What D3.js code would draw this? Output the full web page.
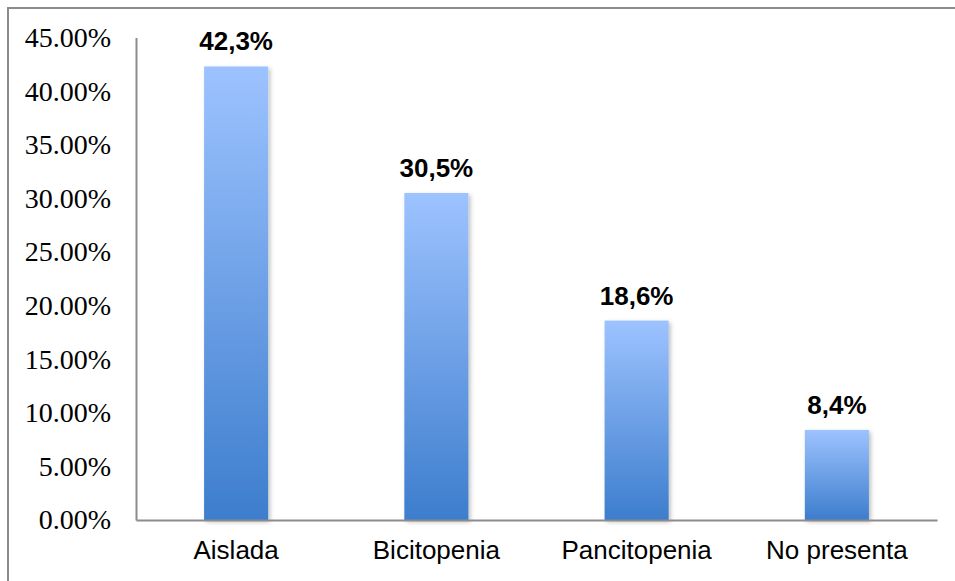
<!DOCTYPE html>
<html><head><meta charset="utf-8">
<script src="https://cdn.jsdelivr.net/npm/d3@7"></script>
<style>body{margin:0;background:#fff}svg{display:block}</style>
</head><body>
<svg id="c" width="955" height="581"></svg>
<script>
const categories = ["Aislada", "Bicitopenia", "Pancitopenia", "No presenta"];
const values = [42.3, 30.5, 18.6, 8.4];
const valueLabels = ["42,3%", "30,5%", "18,6%", "8,4%"];
const yTicks = [0, 5, 10, 15, 20, 25, 30, 35, 40, 45];

const svg = d3.select("#c");
const W = 955, H = 581;
const plot = {left: 136, right: 937, top: 37.5, bottom: 520};

// outer border (top and left visible)
svg.append("path").attr("d", `M8,${H+2}V8H${W+2}`).attr("fill","none")
  .attr("stroke","#8c8c8c").attr("stroke-width",2);

const defs = svg.append("defs");
const grad = defs.append("linearGradient").attr("id","g").attr("x1",0).attr("y1",0).attr("x2",0).attr("y2",1);
grad.append("stop").attr("offset","0%").attr("stop-color","#9dc3ff");
grad.append("stop").attr("offset","100%").attr("stop-color","#3d7dcd");
const f = defs.append("filter").attr("id","sh").attr("x","-20%").attr("y","-20%").attr("width","150%").attr("height","150%");
f.append("feDropShadow").attr("dx",2).attr("dy",2).attr("stdDeviation",2).attr("flood-color","#000").attr("flood-opacity",0.25);

const x = d3.scaleBand().domain(categories).range([plot.left, plot.right]).paddingInner(0.68).paddingOuter(0.34);
const y = d3.scaleLinear().domain([0, 45]).range([plot.bottom, plot.top]);

// bars
svg.append("g").selectAll("rect").data(values).join("rect")
  .attr("x",(d,i)=>x(categories[i])).attr("width",x.bandwidth())
  .attr("y",d=>y(d)).attr("height",d=>y(0)-y(d))
  .attr("fill","url(#g)").attr("filter","url(#sh)");

// y axis
const ya = svg.append("g").attr("transform",`translate(${plot.left},0)`)
  .call(d3.axisLeft(y).tickValues(yTicks).tickSize(0).tickPadding(25).tickFormat(d=>d.toFixed(2)+"%"));
ya.select(".domain").attr("stroke","#8c8c8c").attr("stroke-width",2);
ya.selectAll("text").attr("font-family","'Liberation Serif', serif").attr("font-size",28).attr("fill","#000");

// x axis
const xa = svg.append("g").attr("transform",`translate(0,${plot.bottom})`)
  .call(d3.axisBottom(x).tickSize(0).tickPadding(21));
xa.select(".domain").attr("stroke","#8c8c8c").attr("stroke-width",2);
xa.selectAll("text").attr("font-family","'Liberation Sans', Arial, sans-serif").attr("font-size",26).attr("fill","#000");

// data labels
svg.append("g").selectAll("text").data(values).join("text")
  .attr("x",(d,i)=>x(categories[i])+x.bandwidth()/2).attr("y",d=>y(d)-16)
  .attr("text-anchor","middle").attr("font-family","'Liberation Sans', Arial, sans-serif")
  .attr("font-weight","bold").attr("font-size",26).attr("fill","#000")
  .text((d,i)=>valueLabels[i]);
</script>
</body></html>
